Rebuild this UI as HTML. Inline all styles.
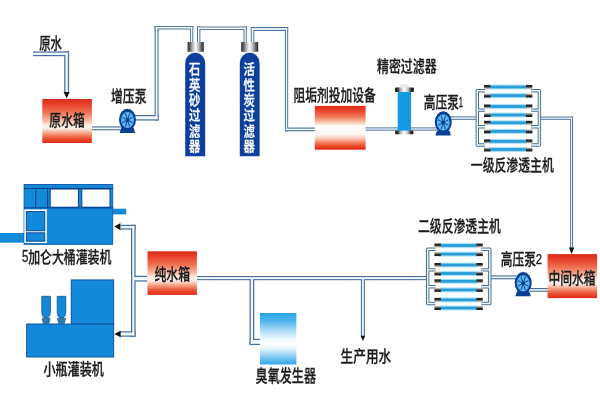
<!DOCTYPE html>
<html lang="zh-CN">
<head>
<meta charset="utf-8">
<title>纯净水生产工艺流程图</title>
<style>
html,body{margin:0;padding:0;background:#fff;}
body{width:600px;height:400px;overflow:hidden;}
svg{display:block;will-change:transform;font-family:'Liberation Sans', 'Noto Sans CJK SC', sans-serif;}
</style>
</head>
<body>
<svg width="600" height="400" viewBox="0 0 600 400">
<rect x="0" y="0" width="600" height="400" fill="#ffffff"/>
<defs>
<linearGradient id="gr" x1="0" y1="0" x2="0" y2="1">
<stop offset="0" stop-color="#d92a18"/>
<stop offset="0.1" stop-color="#e63c26"/>
<stop offset="0.3" stop-color="#ef7050"/>
<stop offset="0.48" stop-color="#f7b49c"/>
<stop offset="0.6" stop-color="#fdeee6"/>
<stop offset="0.67" stop-color="#fdeee6"/>
<stop offset="0.77" stop-color="#f6a88c"/>
<stop offset="0.89" stop-color="#ea5436"/>
<stop offset="1" stop-color="#e02a14"/>
</linearGradient>
<linearGradient id="gr2" x1="0" y1="0" x2="0" y2="1">
<stop offset="0" stop-color="#dc2c1a"/>
<stop offset="0.1" stop-color="#e84028"/>
<stop offset="0.25" stop-color="#f17a58"/>
<stop offset="0.37" stop-color="#f9c4ae"/>
<stop offset="0.45" stop-color="#fffaf7"/>
<stop offset="0.64" stop-color="#fffaf7"/>
<stop offset="0.74" stop-color="#facbb8"/>
<stop offset="0.86" stop-color="#f0704e"/>
<stop offset="0.95" stop-color="#e63a20"/>
<stop offset="1" stop-color="#e02a14"/>
</linearGradient>
<linearGradient id="oz" x1="0" y1="0" x2="0" y2="1">
<stop offset="0" stop-color="#25a2e6"/>
<stop offset="0.15" stop-color="#4fb4ec"/>
<stop offset="0.35" stop-color="#b0def7"/>
<stop offset="0.5" stop-color="#eef8fe"/>
<stop offset="0.6" stop-color="#ffffff"/>
<stop offset="0.7" stop-color="#e2f3fc"/>
<stop offset="0.85" stop-color="#84caf2"/>
<stop offset="1" stop-color="#2fa6e8"/>
</linearGradient>
<linearGradient id="cap" x1="0" y1="0" x2="1" y2="0">
<stop offset="0" stop-color="#2a2a2a"/>
<stop offset="0.14" stop-color="#5e5e5e"/>
<stop offset="0.3" stop-color="#b4b4b4"/>
<stop offset="0.5" stop-color="#ffffff"/>
<stop offset="0.7" stop-color="#b4b4b4"/>
<stop offset="0.86" stop-color="#5e5e5e"/>
<stop offset="1" stop-color="#2a2a2a"/>
</linearGradient>
<linearGradient id="tube" x1="0" y1="0" x2="0" y2="1">
<stop offset="0" stop-color="#e4f7fe"/>
<stop offset="0.18" stop-color="#9bdcf7"/>
<stop offset="0.34" stop-color="#2a9cd8"/>
<stop offset="0.66" stop-color="#2a9cd8"/>
<stop offset="0.82" stop-color="#9bdcf7"/>
<stop offset="1" stop-color="#e4f7fe"/>
</linearGradient>
<linearGradient id="tcapa" x1="0" y1="0" x2="0" y2="1">
<stop offset="0" stop-color="#222"/>
<stop offset="0.45" stop-color="#2a2a2a"/>
<stop offset="0.65" stop-color="#8a8480"/>
<stop offset="1" stop-color="#e8e4e0"/>
</linearGradient>
<linearGradient id="tcapb" x1="0" y1="1" x2="0" y2="0">
<stop offset="0" stop-color="#222"/>
<stop offset="0.45" stop-color="#2a2a2a"/>
<stop offset="0.65" stop-color="#8a8480"/>
<stop offset="1" stop-color="#e8e4e0"/>
</linearGradient>
<linearGradient id="cap2" x1="0" y1="0" x2="1" y2="0">
<stop offset="0" stop-color="#1a1a1a"/>
<stop offset="0.14" stop-color="#2e2e2e"/>
<stop offset="0.3" stop-color="#b8bcc0"/>
<stop offset="0.5" stop-color="#ffffff"/>
<stop offset="0.7" stop-color="#b8bcc0"/>
<stop offset="0.86" stop-color="#2e2e2e"/>
<stop offset="1" stop-color="#1a1a1a"/>
</linearGradient>
</defs>
<rect x="33.00" y="51.40" width="36.10" height="4.80" fill="#48709a"/>
<rect x="64.20" y="51.40" width="4.90" height="41.10" fill="#48709a"/>
<rect x="92.00" y="126.40" width="30.00" height="3.90" fill="#48709a"/>
<rect x="134.00" y="114.95" width="24.60" height="5.60" fill="#48709a"/>
<rect x="154.60" y="26.00" width="4.00" height="94.55" fill="#48709a"/>
<rect x="154.60" y="26.00" width="38.65" height="3.50" fill="#48709a"/>
<rect x="189.95" y="26.00" width="3.30" height="17.00" fill="#48709a"/>
<rect x="197.05" y="26.50" width="3.30" height="16.50" fill="#48709a"/>
<rect x="197.05" y="26.50" width="49.75" height="3.50" fill="#48709a"/>
<rect x="243.50" y="26.50" width="3.30" height="16.50" fill="#48709a"/>
<rect x="250.80" y="27.00" width="3.50" height="16.00" fill="#48709a"/>
<rect x="250.80" y="27.00" width="37.35" height="4.00" fill="#48709a"/>
<rect x="284.95" y="27.00" width="3.20" height="104.25" fill="#48709a"/>
<rect x="284.95" y="127.55" width="31.05" height="3.70" fill="#48709a"/>
<rect x="365.00" y="127.40" width="72.00" height="3.20" fill="#48709a"/>
<rect x="450.00" y="116.40" width="26.50" height="3.40" fill="#48709a"/>
<rect x="539.50" y="116.60" width="33.55" height="3.20" fill="#48709a"/>
<rect x="570.15" y="116.60" width="2.90" height="132.40" fill="#48709a"/>
<rect x="530.00" y="288.00" width="18.00" height="3.80" fill="#48709a"/>
<rect x="490.50" y="275.40" width="25.50" height="3.90" fill="#48709a"/>
<rect x="197.00" y="276.00" width="230.00" height="4.20" fill="#48709a"/>
<rect x="360.90" y="278.00" width="4.00" height="59.00" fill="#48709a"/>
<rect x="249.53" y="278.00" width="4.75" height="67.05" fill="#48709a"/>
<rect x="249.53" y="338.85" width="10.97" height="6.20" fill="#48709a"/>
<rect x="121.00" y="224.80" width="14.60" height="4.80" fill="#48709a"/>
<rect x="131.00" y="224.80" width="4.60" height="111.95" fill="#48709a"/>
<rect x="120.00" y="331.25" width="15.60" height="5.50" fill="#48709a"/>
<rect x="133.30" y="275.80" width="14.20" height="5.80" fill="#48709a"/>
<rect x="33.00" y="52.65" width="34.85" height="2.30" fill="#f1f9fe"/>
<rect x="65.45" y="52.65" width="2.40" height="39.85" fill="#f1f9fe"/>
<rect x="92.00" y="127.50" width="30.00" height="1.70" fill="#f1f9fe"/>
<rect x="134.00" y="116.20" width="23.50" height="3.10" fill="#f1f9fe"/>
<rect x="155.70" y="26.95" width="1.80" height="92.35" fill="#f1f9fe"/>
<rect x="155.70" y="26.95" width="36.60" height="1.60" fill="#f1f9fe"/>
<rect x="190.90" y="26.95" width="1.40" height="16.05" fill="#f1f9fe"/>
<rect x="198.00" y="27.45" width="1.40" height="15.55" fill="#f1f9fe"/>
<rect x="198.00" y="27.45" width="47.85" height="1.60" fill="#f1f9fe"/>
<rect x="244.45" y="27.45" width="1.40" height="15.55" fill="#f1f9fe"/>
<rect x="251.75" y="28.10" width="1.60" height="14.90" fill="#f1f9fe"/>
<rect x="251.75" y="28.10" width="35.45" height="1.80" fill="#f1f9fe"/>
<rect x="285.90" y="28.10" width="1.30" height="102.05" fill="#f1f9fe"/>
<rect x="285.90" y="128.65" width="30.10" height="1.50" fill="#f1f9fe"/>
<rect x="365.00" y="128.35" width="72.00" height="1.30" fill="#f1f9fe"/>
<rect x="450.00" y="117.35" width="26.50" height="1.50" fill="#f1f9fe"/>
<rect x="539.50" y="117.55" width="32.60" height="1.30" fill="#f1f9fe"/>
<rect x="571.10" y="117.55" width="1.00" height="131.45" fill="#f1f9fe"/>
<rect x="530.00" y="289.10" width="18.00" height="1.60" fill="#f1f9fe"/>
<rect x="490.50" y="276.50" width="25.50" height="1.70" fill="#f1f9fe"/>
<rect x="197.00" y="277.10" width="230.00" height="2.00" fill="#f1f9fe"/>
<rect x="362.00" y="278.00" width="1.80" height="59.00" fill="#f1f9fe"/>
<rect x="250.78" y="278.00" width="2.25" height="65.80" fill="#f1f9fe"/>
<rect x="250.78" y="340.10" width="9.72" height="3.70" fill="#f1f9fe"/>
<rect x="121.00" y="226.05" width="13.35" height="2.30" fill="#f1f9fe"/>
<rect x="132.25" y="226.05" width="2.10" height="109.45" fill="#f1f9fe"/>
<rect x="120.00" y="332.50" width="14.35" height="3.00" fill="#f1f9fe"/>
<rect x="133.30" y="277.05" width="14.20" height="3.30" fill="#f1f9fe"/>
<path d="M63.550000000000004 91.89999999999999 L69.75 91.89999999999999 L66.65 98.3 Z" fill="#111"/>
<path d="M568.9 247.5 L574.3000000000001 247.5 L571.6 253.9 Z" fill="#111"/>
<path d="M360.59999999999997 335.8 L365.2 335.8 L362.9 341.1 Z" fill="#111"/>
<path d="M120.5 223.0 L120.5 230.2 L114.3 226.6 Z" fill="#111"/>
<path d="M120.6 330.7 L120.6 337.3 L114.3 334.0 Z" fill="#111"/>
<rect x="42.3" y="99" width="49.6" height="44" fill="url(#gr)"/>
<rect x="314.8" y="105.9" width="50.8" height="43.8" fill="url(#gr2)"/>
<rect x="547.6" y="254.1" width="49.5" height="44.0" fill="url(#gr)"/>
<rect x="147.5" y="251.3" width="49.4" height="43.6" fill="url(#gr)"/>
<rect x="259.9" y="313" width="36.5" height="51.5" fill="url(#oz)"/>
<rect x="190.6" y="50" width="9.2" height="6" fill="#e3ebf4"/>
<path d="M185.2 156.2 L185.2 63 A10.0 10.2 0 0 1 205.2 63 L205.2 156.2 Z" fill="#0d3f9c"/>
<rect x="187.6" y="42" width="16.200000000000017" height="9.8" fill="url(#cap)"/>
<text x="194.7 194.7 194.7 194.7 194.7 194.7" y="74.3 89.6 105.0 120.3 135.7 151.1" font-size="14.2" font-weight="500" fill="#fff" stroke="#fff" stroke-width="0.3" text-anchor="middle" transform="translate(194.7 0) scale(0.8 1) translate(-194.7 0)">石英砂过滤器</text>
<rect x="245.10000000000002" y="50" width="9.2" height="6" fill="#e3ebf4"/>
<path d="M239.8 156.2 L239.8 63 A9.900000000000006 10.2 0 0 1 259.6 63 L259.6 156.2 Z" fill="#0d3f9c"/>
<rect x="241.2" y="42" width="17.0" height="9.8" fill="url(#cap)"/>
<text x="249.20000000000002 249.20000000000002 249.20000000000002 249.20000000000002 249.20000000000002 249.20000000000002" y="74.3 89.6 105.0 120.3 135.7 151.1" font-size="14.2" font-weight="500" fill="#fff" stroke="#fff" stroke-width="0.3" text-anchor="middle" transform="translate(249.20000000000002 0) scale(0.8 1) translate(-249.20000000000002 0)">活性炭过滤器</text>
<rect x="397.7" y="90" width="13.3" height="41.5" fill="#139ae3"/>
<path d="M398.6 89 Q398.6 84 404.5 84 Q410.4 84 410.4 89 Z" fill="#e4e9ef"/>
<rect x="395" y="87.4" width="18.9" height="4.6" rx="1" fill="url(#cap2)"/>
<rect x="395.2" y="130.6" width="18.2" height="3.7" fill="url(#cap2)"/>
<path d="M121.3 128 L133.7 128 L135.1 132.9 L119.6 132.9 Z" fill="#0a3f95"/>
<ellipse cx="127.5" cy="119.6" rx="8.5" ry="10.8" fill="#0a3f95"/>
<ellipse cx="127.5" cy="120" rx="6.4" ry="8.1" fill="#5cb6f6"/>
<line x1="122.33" y1="117.24" x2="132.67" y2="122.76" stroke="#0b3f90" stroke-width="0.95"/>
<line x1="125.36" y1="113.35" x2="129.64" y2="126.65" stroke="#0b3f90" stroke-width="0.95"/>
<line x1="129.64" y1="113.35" x2="125.36" y2="126.65" stroke="#0b3f90" stroke-width="0.95"/>
<line x1="132.67" y1="117.24" x2="122.33" y2="122.76" stroke="#0b3f90" stroke-width="0.95"/>
<ellipse cx="127.5" cy="120" rx="1.7" ry="2" fill="#0b3f90"/>
<path d="M437.1 130.5 L449.5 130.5 L450.90000000000003 135.4 L435.40000000000003 135.4 Z" fill="#0a3f95"/>
<ellipse cx="443.3" cy="122.1" rx="8.5" ry="10.8" fill="#0a3f95"/>
<ellipse cx="443.3" cy="122.5" rx="6.4" ry="8.1" fill="#5cb6f6"/>
<line x1="438.13" y1="119.74" x2="448.47" y2="125.26" stroke="#0b3f90" stroke-width="0.95"/>
<line x1="441.16" y1="115.85" x2="445.44" y2="129.15" stroke="#0b3f90" stroke-width="0.95"/>
<line x1="445.44" y1="115.85" x2="441.16" y2="129.15" stroke="#0b3f90" stroke-width="0.95"/>
<line x1="448.47" y1="119.74" x2="438.13" y2="125.26" stroke="#0b3f90" stroke-width="0.95"/>
<ellipse cx="443.3" cy="122.5" rx="1.7" ry="2" fill="#0b3f90"/>
<path d="M517.0 291.3 L529.4000000000001 291.3 L530.8000000000001 296.2 L515.3000000000001 296.2 Z" fill="#0a3f95"/>
<ellipse cx="523.2" cy="282.90000000000003" rx="8.5" ry="10.8" fill="#0a3f95"/>
<ellipse cx="523.2" cy="283.3" rx="6.4" ry="8.1" fill="#5cb6f6"/>
<line x1="518.03" y1="280.54" x2="528.37" y2="286.06" stroke="#0b3f90" stroke-width="0.95"/>
<line x1="521.06" y1="276.65" x2="525.34" y2="289.95" stroke="#0b3f90" stroke-width="0.95"/>
<line x1="525.34" y1="276.65" x2="521.06" y2="289.95" stroke="#0b3f90" stroke-width="0.95"/>
<line x1="528.37" y1="280.54" x2="518.03" y2="286.06" stroke="#0b3f90" stroke-width="0.95"/>
<ellipse cx="523.2" cy="283.3" rx="1.7" ry="2" fill="#0b3f90"/>
<g transform="translate(0 0)">
<path d="M485 90.7 L477.3 90.7 L477.3 145.0 L485 145.0 M477.3 110.1 L485 110.1 M477.3 126.75 L485 126.75" fill="none" stroke="#44708f" stroke-width="3.4" stroke-linejoin="round"/>
<path d="M485 90.7 L477.3 90.7 L477.3 145.0 L485 145.0 M477.3 110.1 L485 110.1 M477.3 126.75 L485 126.75" fill="none" stroke="#f2f9fe" stroke-width="1.4" stroke-linejoin="round"/>
<path d="M531 90.7 L539.4 90.7 L539.4 145.0 L531 145.0 M539.4 110.1 L531 110.1 M539.4 126.75 L531 126.75" fill="none" stroke="#44708f" stroke-width="3.4" stroke-linejoin="round"/>
<path d="M531 90.7 L539.4 90.7 L539.4 145.0 L531 145.0 M539.4 110.1 L531 110.1 M539.4 126.75 L531 126.75" fill="none" stroke="#f2f9fe" stroke-width="1.4" stroke-linejoin="round"/>
<rect x="489" y="84.20" width="38" height="5.6" fill="url(#tube)"/>
<rect x="484" y="85.00" width="6.4" height="4.2" fill="url(#tcapa)"/>
<rect x="526" y="85.00" width="6.4" height="4.2" fill="url(#tcapa)"/>
<rect x="489" y="92.80" width="38" height="5.6" fill="url(#tube)"/>
<rect x="484" y="93.40" width="6.4" height="4.2" fill="url(#tcapb)"/>
<rect x="526" y="93.40" width="6.4" height="4.2" fill="url(#tcapb)"/>
<rect x="489" y="103.70" width="38" height="5.6" fill="url(#tube)"/>
<rect x="484" y="104.50" width="6.4" height="4.2" fill="url(#tcapa)"/>
<rect x="526" y="104.50" width="6.4" height="4.2" fill="url(#tcapa)"/>
<rect x="489" y="112.20" width="38" height="5.6" fill="url(#tube)"/>
<rect x="484" y="112.80" width="6.4" height="4.2" fill="url(#tcapb)"/>
<rect x="526" y="112.80" width="6.4" height="4.2" fill="url(#tcapb)"/>
<rect x="489" y="120.00" width="38" height="5.6" fill="url(#tube)"/>
<rect x="484" y="120.80" width="6.4" height="4.2" fill="url(#tcapa)"/>
<rect x="526" y="120.80" width="6.4" height="4.2" fill="url(#tcapa)"/>
<rect x="489" y="128.60" width="38" height="5.6" fill="url(#tube)"/>
<rect x="484" y="129.20" width="6.4" height="4.2" fill="url(#tcapb)"/>
<rect x="526" y="129.20" width="6.4" height="4.2" fill="url(#tcapb)"/>
<rect x="489" y="138.60" width="38" height="5.6" fill="url(#tube)"/>
<rect x="484" y="139.40" width="6.4" height="4.2" fill="url(#tcapa)"/>
<rect x="526" y="139.40" width="6.4" height="4.2" fill="url(#tcapa)"/>
<rect x="489" y="146.70" width="38" height="5.6" fill="url(#tube)"/>
<rect x="484" y="147.30" width="6.4" height="4.2" fill="url(#tcapb)"/>
<rect x="526" y="147.30" width="6.4" height="4.2" fill="url(#tcapb)"/>
</g>
<g transform="translate(-49.6 158.5)">
<path d="M485 90.7 L477.3 90.7 L477.3 145.0 L485 145.0 M477.3 111.4 L485 111.4 M477.3 128.25 L485 128.25" fill="none" stroke="#44708f" stroke-width="3.4" stroke-linejoin="round"/>
<path d="M485 90.7 L477.3 90.7 L477.3 145.0 L485 145.0 M477.3 111.4 L485 111.4 M477.3 128.25 L485 128.25" fill="none" stroke="#f2f9fe" stroke-width="1.4" stroke-linejoin="round"/>
<path d="M531 90.7 L539.4 90.7 L539.4 145.0 L531 145.0 M539.4 111.4 L531 111.4 M539.4 128.25 L531 128.25" fill="none" stroke="#44708f" stroke-width="3.4" stroke-linejoin="round"/>
<path d="M531 90.7 L539.4 90.7 L539.4 145.0 L531 145.0 M539.4 111.4 L531 111.4 M539.4 128.25 L531 128.25" fill="none" stroke="#f2f9fe" stroke-width="1.4" stroke-linejoin="round"/>
<rect x="489" y="84.20" width="38" height="5.6" fill="url(#tube)"/>
<rect x="484" y="85.00" width="6.4" height="4.2" fill="url(#tcapa)"/>
<rect x="526" y="85.00" width="6.4" height="4.2" fill="url(#tcapa)"/>
<rect x="489" y="92.80" width="38" height="5.6" fill="url(#tube)"/>
<rect x="484" y="93.40" width="6.4" height="4.2" fill="url(#tcapb)"/>
<rect x="526" y="93.40" width="6.4" height="4.2" fill="url(#tcapb)"/>
<rect x="489" y="103.70" width="38" height="5.6" fill="url(#tube)"/>
<rect x="484" y="104.50" width="6.4" height="4.2" fill="url(#tcapa)"/>
<rect x="526" y="104.50" width="6.4" height="4.2" fill="url(#tcapa)"/>
<rect x="489" y="112.20" width="38" height="5.6" fill="url(#tube)"/>
<rect x="484" y="112.80" width="6.4" height="4.2" fill="url(#tcapb)"/>
<rect x="526" y="112.80" width="6.4" height="4.2" fill="url(#tcapb)"/>
<rect x="489" y="120.00" width="38" height="5.6" fill="url(#tube)"/>
<rect x="484" y="120.80" width="6.4" height="4.2" fill="url(#tcapa)"/>
<rect x="526" y="120.80" width="6.4" height="4.2" fill="url(#tcapa)"/>
<rect x="489" y="128.60" width="38" height="5.6" fill="url(#tube)"/>
<rect x="484" y="129.20" width="6.4" height="4.2" fill="url(#tcapb)"/>
<rect x="526" y="129.20" width="6.4" height="4.2" fill="url(#tcapb)"/>
<rect x="489" y="138.60" width="38" height="5.6" fill="url(#tube)"/>
<rect x="484" y="139.40" width="6.4" height="4.2" fill="url(#tcapa)"/>
<rect x="526" y="139.40" width="6.4" height="4.2" fill="url(#tcapa)"/>
<rect x="489" y="146.70" width="38" height="5.6" fill="url(#tube)"/>
<rect x="484" y="147.30" width="6.4" height="4.2" fill="url(#tcapb)"/>
<rect x="526" y="147.30" width="6.4" height="4.2" fill="url(#tcapb)"/>
</g>
<rect x="0" y="233" width="24.5" height="9.7" fill="#1389da"/>
<rect x="24.1" y="184.5" width="88.6" height="59.8" fill="#1389da" stroke="#0b55a8" stroke-width="0.9"/>
<rect x="113" y="208.7" width="13.2" height="5.7" fill="#1389da"/>
<rect x="50.2" y="189" width="28.2" height="18.2" fill="#fff" stroke="#0a3c8a" stroke-width="1"/>
<rect x="81.8" y="189" width="28.2" height="18.2" fill="#fff" stroke="#0a3c8a" stroke-width="1"/>
<path d="M23.8 188.5 L113.2 188.5 M23.8 207.9 L113.2 207.9 M35.8 188.5 L35.8 207.9 M47.6 188.5 L47.6 207.9" stroke="#0a3c8a" stroke-width="1" fill="none"/>
<rect x="24.3" y="209.4" width="22.5" height="33.6" fill="#fff"/>
<rect x="26.3" y="211.6" width="18.5" height="19.2" fill="#1389da" stroke="#0a3c8a" stroke-width="0.9"/>
<rect x="26.3" y="232.8" width="18.5" height="8.4" fill="#1389da" stroke="#0a3c8a" stroke-width="0.9"/>
<rect x="71.2" y="279.9" width="42.5" height="45" fill="#1389da" stroke="#0a4a96" stroke-width="0.9"/>
<rect x="26.7" y="324" width="87" height="33" fill="#1389da" stroke="#0a4a96" stroke-width="0.9"/>
<path d="M41.8 296.3 L50.4 296.3 L50.4 312.5 Q50.4 316 47.699999999999996 318 L44.5 318 Q41.8 316 41.8 312.5 Z" fill="#1588d6" stroke="#14578f" stroke-width="0.8"/>
<path d="M42.0 318.2 L50.199999999999996 318.2 L48.9 323.6 L43.3 323.6 Z" fill="#2c7aa6" stroke="#14578f" stroke-width="0.6"/>
<path d="M57.2 296.3 L65.8 296.3 L65.8 312.5 Q65.8 316 63.1 318 L59.900000000000006 318 Q57.2 316 57.2 312.5 Z" fill="#1588d6" stroke="#14578f" stroke-width="0.8"/>
<path d="M57.400000000000006 318.2 L65.60000000000001 318.2 L64.3 323.6 L58.7 323.6 Z" fill="#2c7aa6" stroke="#14578f" stroke-width="0.6"/>
<text x="39.2" y="48.7" font-size="15.5" font-weight="500" fill="#1c1c1c" stroke="#1c1c1c" stroke-width="0.3" textLength="22.8" lengthAdjust="spacingAndGlyphs">原水</text>
<text x="49.3" y="126.2" font-size="16" font-weight="500" fill="#1c1c1c" stroke="#1c1c1c" stroke-width="0.3" textLength="35.5" lengthAdjust="spacingAndGlyphs">原水箱</text>
<text x="111" y="102.0" font-size="16" font-weight="500" fill="#1c1c1c" stroke="#1c1c1c" stroke-width="0.3" textLength="35.5" lengthAdjust="spacingAndGlyphs">增压泵</text>
<text x="293.4" y="100.8" font-size="16" font-weight="500" fill="#1c1c1c" stroke="#1c1c1c" stroke-width="0.3" textLength="82.4" lengthAdjust="spacingAndGlyphs">阻垢剂投加设备</text>
<text x="377" y="72.1" font-size="16" font-weight="500" fill="#1c1c1c" stroke="#1c1c1c" stroke-width="0.3" textLength="59.6" lengthAdjust="spacingAndGlyphs">精密过滤器</text>
<text fill="#1c1c1c" stroke="#1c1c1c"><tspan x="423.7" y="108.4" font-size="16" font-weight="500" stroke-width="0.3" textLength="35.2" lengthAdjust="spacingAndGlyphs">高压泵</tspan><tspan x="458.6" y="106.7" font-size="15" font-weight="400" stroke-width="0.35" textLength="4.6" lengthAdjust="spacingAndGlyphs">1</tspan></text>
<text x="470.8" y="171.0" font-size="16" font-weight="500" fill="#1c1c1c" stroke="#1c1c1c" stroke-width="0.3" textLength="83" lengthAdjust="spacingAndGlyphs">一级反渗透主机</text>
<text x="418" y="231.8" font-size="16" font-weight="500" fill="#1c1c1c" stroke="#1c1c1c" stroke-width="0.3" textLength="82.8" lengthAdjust="spacingAndGlyphs">二级反渗透主机</text>
<text fill="#1c1c1c" stroke="#1c1c1c"><tspan x="500.7" y="264.9" font-size="16" font-weight="500" stroke-width="0.3" textLength="35.4" lengthAdjust="spacingAndGlyphs">高压泵</tspan><tspan x="535.8" y="263.5" font-size="15" font-weight="400" stroke-width="0.35" textLength="6.3" lengthAdjust="spacingAndGlyphs">2</tspan></text>
<text x="548.5" y="283.8" font-size="16" font-weight="500" fill="#1c1c1c" stroke="#1c1c1c" stroke-width="0.3" textLength="47" lengthAdjust="spacingAndGlyphs">中间水箱</text>
<text x="154.5" y="280.0" font-size="16" font-weight="500" fill="#1c1c1c" stroke="#1c1c1c" stroke-width="0.3" textLength="35.5" lengthAdjust="spacingAndGlyphs">纯水箱</text>
<text fill="#1c1c1c" stroke="#1c1c1c"><tspan x="22.1" y="261.8" font-size="16.6" font-weight="400" stroke-width="0.35" textLength="6.4" lengthAdjust="spacingAndGlyphs">5</tspan><tspan x="28.2" y="263.4" font-size="16" font-weight="500" stroke-width="0.3" textLength="83.2" lengthAdjust="spacingAndGlyphs">加仑大桶灌装机</tspan></text>
<text x="43.4" y="374.9" font-size="16.4" font-weight="500" fill="#1c1c1c" stroke="#1c1c1c" stroke-width="0.3" textLength="60.4" lengthAdjust="spacingAndGlyphs">小瓶灌装机</text>
<text x="340.6" y="361.6" font-size="16" font-weight="500" fill="#1c1c1c" stroke="#1c1c1c" stroke-width="0.3" textLength="50.6" lengthAdjust="spacingAndGlyphs">生产用水</text>
<text x="255.6" y="382.1" font-size="16.6" font-weight="500" fill="#1c1c1c" stroke="#1c1c1c" stroke-width="0.3" textLength="60.4" lengthAdjust="spacingAndGlyphs">臭氧发生器</text>
</svg>
</body>
</html>
